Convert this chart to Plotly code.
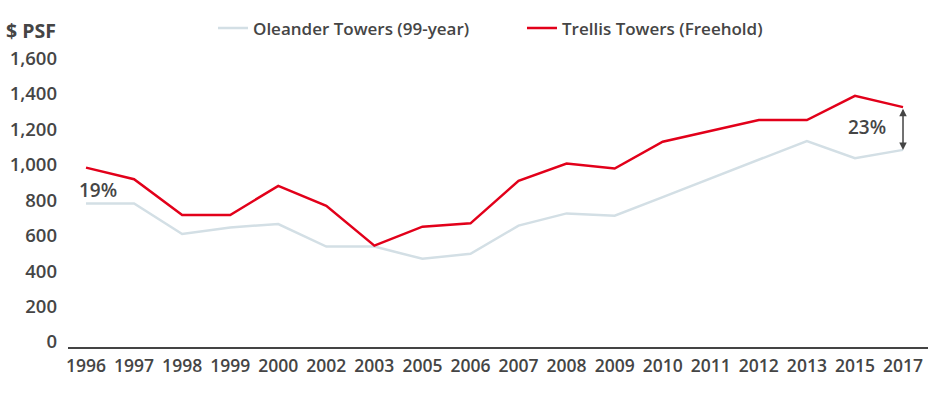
import plotly.graph_objects as go

years = ["1996", "1997", "1998", "1999", "2000", "2002", "2003", "2005", "2006",
         "2007", "2008", "2009", "2010", "2011", "2012", "2013", "2015", "2017"]
oleander = [809, 809, 637, 674, 693, 566, 566, 497, 525,
            684, 753, 740, 845, 950, 1054, 1161, 1064, 1111]
trellis = [1011, 946, 744, 744, 908, 796, 571, 678, 697,
           937, 1034, 1006, 1157, 1217, 1279, 1279, 1416, 1352]
y_ticks = [0, 200, 400, 600, 800, 1000, 1200, 1400, 1600]
gap_labels = ["19%", "23%"]

xi = list(range(len(years)))
TXT = "#454545"
FONT = "Open Sans"

fig = go.Figure()
fig.add_trace(go.Scatter(x=xi, y=oleander, mode="lines", name="Oleander Towers (99-year)",
                         line=dict(color="#d3dfe5", width=2.5)))
fig.add_trace(go.Scatter(x=xi, y=trellis, mode="lines", name="Trellis Towers (Freehold)",
                         line=dict(color="#e2001a", width=2.5)))

# 19% label near first points
fig.add_annotation(x=xi[0], y=(oleander[0] + trellis[0]) / 2, text=gap_labels[0],
                   showarrow=False, xanchor="left", xshift=-9, yshift=-4,
                   font=dict(family=FONT, size=19, color=TXT, weight=600))
# 23% double arrow at last points
fig.add_annotation(x=xi[-1], y=oleander[-1], ax=xi[-1], ay=trellis[-1],
                   xref="x", yref="y", axref="x", ayref="y", text="",
                   showarrow=True, arrowhead=2, arrowside="end+start", arrowsize=1,
                   arrowwidth=1.5, arrowcolor="#444444", standoff=0, startstandoff=0)
fig.add_annotation(x=xi[-1], y=(oleander[-1] + trellis[-1]) / 2, text=gap_labels[1],
                   showarrow=False, xanchor="right", xshift=-15, yshift=2,
                   font=dict(family=FONT, size=19, color=TXT, weight=600))
# $ PSF axis title
fig.add_annotation(xref="paper", yref="paper", x=0, y=1.105, xanchor="right", yanchor="middle",
                   xshift=-10, text="$ PSF", showarrow=False,
                   font=dict(family=FONT, size=19.5, color=TXT, weight=700))

fig.update_layout(
    width=940, height=394, autosize=False,
    margin=dict(l=68, r=12, t=60, b=47),
    paper_bgcolor="white", plot_bgcolor="white",
    showlegend=True,
    legend=dict(orientation="h", x=0.1686, xanchor="left", y=1.11, yanchor="middle",
                font=dict(family=FONT, size=17, color=TXT, weight=600),
                itemwidth=30, entrywidth=264, entrywidthmode="pixels",
                bgcolor="rgba(0,0,0,0)"),
    xaxis=dict(tickmode="array", tickvals=xi, ticktext=years, range=[-0.375, 17.52],
               showgrid=False, zeroline=False, showline=True, linecolor="#444444", linewidth=1.5,
               ticks="", automargin=False, ticklabelstandoff=2,
               tickfont=dict(family=FONT, size=17.5, color=TXT, weight=600),
               fixedrange=True),
    yaxis=dict(tickmode="array", tickvals=y_ticks, ticktext=[f"{v:,}" for v in y_ticks],
               range=[0, 1612], showgrid=False, zeroline=False, showline=False,
               ticks="", ticklabelstandoff=10, ticklabelshift=-5, automargin=False,
               tickfont=dict(family=FONT, size=18.5, color=TXT, weight=600),
               fixedrange=True),
)

fig.write_html("out.html", config={"displayModeBar": False},
               post_script="document.body.style.margin='0';document.body.style.overflow='hidden';")
